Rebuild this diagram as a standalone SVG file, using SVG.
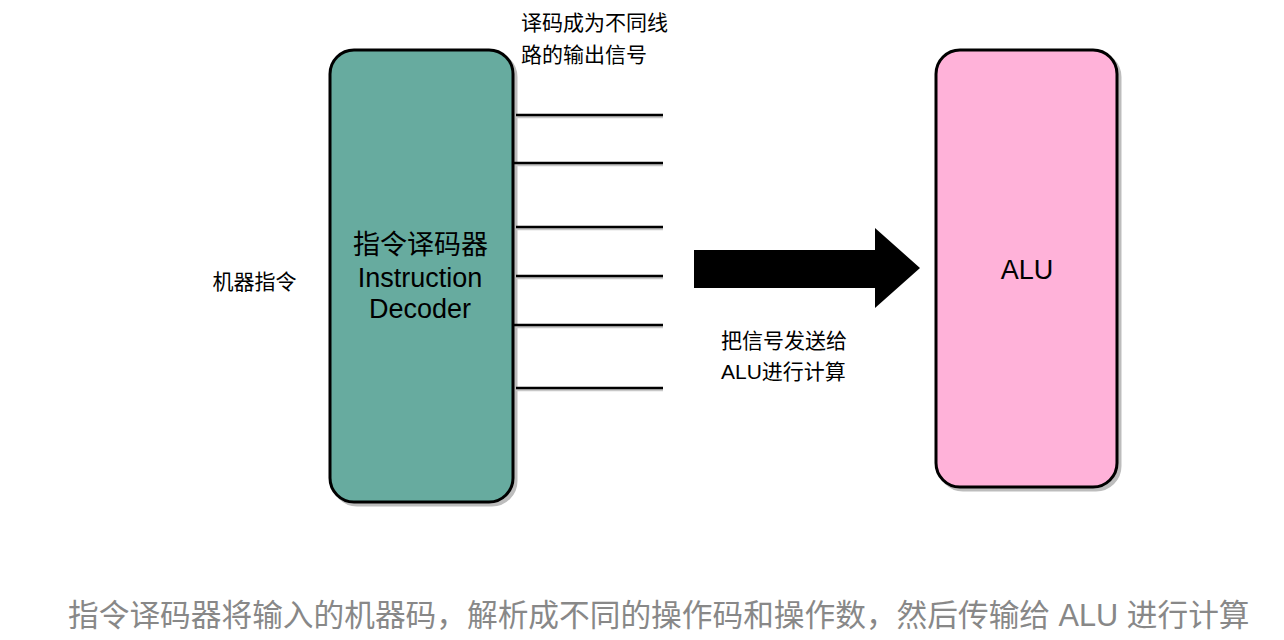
<svg xmlns="http://www.w3.org/2000/svg" width="1284" height="640" viewBox="0 0 1284 640">
<style>
.box{stroke:#000;stroke-width:3}
.shadow{fill:#bdbdbd;stroke:#bdbdbd;stroke-width:3}
.cjk{font-family:"Liberation Sans","Noto Sans CJK SC",sans-serif;fill:#000}
.sig{stroke:#000;stroke-width:2.5}
.sigsh{stroke:#c8c8c8;stroke-width:2.5}
</style>
<rect width="1284" height="640" fill="#fff"/>
<g id="decoder">
<rect class="shadow" x="333" y="53" width="183" height="452" rx="24"/>
<rect class="box" x="330" y="50" width="183" height="452" rx="24" fill="#67ab9f"/>
<text class="cjk" x="420.5" y="254" font-size="27" text-anchor="middle">指令译码器</text>
<text class="cjk" x="420" y="287" font-size="27" text-anchor="middle">Instruction</text>
<text class="cjk" x="420" y="318" font-size="27" text-anchor="middle">Decoder</text>
</g>
<g id="alu">
<rect class="shadow" x="939" y="53" width="181" height="437" rx="24"/>
<rect class="box" x="936" y="50" width="181" height="437" rx="24" fill="#ffb2d9"/>
<text class="cjk" x="1027" y="279" font-size="27" text-anchor="middle">ALU</text>
</g>
<g id="input-label">
<text class="cjk" x="254.5" y="289" font-size="21" text-anchor="middle">机器指令</text>
</g>
<g id="output-label">
<text class="cjk" x="521" y="30" font-size="21">译码成为不同线</text>
<text class="cjk" x="521" y="62" font-size="21">路的输出信号</text>
</g>
<g id="connectors">
<g>
<line class="sigsh" x1="516" y1="117" x2="663" y2="117"/>
<line class="sigsh" x1="516" y1="165" x2="663" y2="165"/>
<line class="sigsh" x1="516" y1="229" x2="663" y2="229"/>
<line class="sigsh" x1="516" y1="278" x2="663" y2="278"/>
<line class="sigsh" x1="516" y1="327" x2="663" y2="327"/>
<line class="sigsh" x1="516" y1="390" x2="663" y2="390"/>
</g>
<line class="sig" x1="516" y1="115" x2="663" y2="115"/>
<line class="sig" x1="513" y1="163" x2="663" y2="163"/>
<line class="sig" x1="516" y1="227" x2="663" y2="227"/>
<line class="sig" x1="516" y1="276" x2="663" y2="276"/>
<line class="sig" x1="513" y1="325" x2="663" y2="325"/>
<line class="sig" x1="516" y1="388" x2="663" y2="388"/>
<polygon points="694,250 875,250 875,228 920,268 875,308 875,288 694,288" fill="#000"/>
</g>
<g id="arrow-label">
<text class="cjk" x="721" y="348" font-size="21">把信号发送给</text>
<text class="cjk" x="721" y="379" font-size="21">ALU进行计算</text>
</g>
<g id="caption">
<text x="68" y="626" font-size="30.7" fill="#888" font-family="'Liberation Sans','Noto Sans CJK SC',sans-serif">指令译码器将输入的机器码，解析成不同的操作码和操作数，然后传输给 ALU 进行计算</text>
</g>
</svg>
